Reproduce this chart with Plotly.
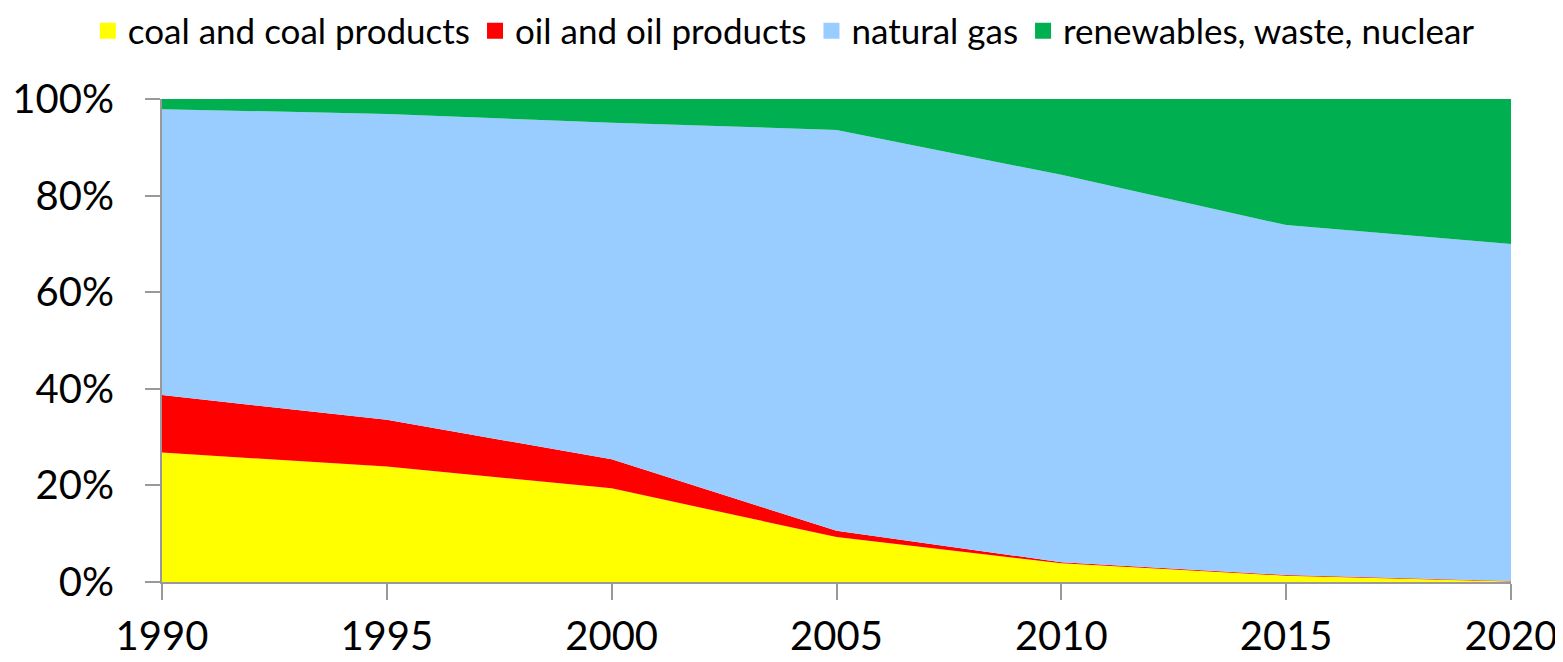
import plotly.graph_objects as go

years = [1990, 1995, 2000, 2005, 2010, 2015, 2020]
coal = [26.8, 23.9, 19.4, 9.3, 3.9, 1.3, 0.1]
oil = [11.9, 9.7, 6.0, 1.3, 0.2, 0.15, 0.1]
gas = [59.2, 63.3, 69.7, 83.0, 80.2, 72.45, 69.8]
renew = [2.1, 3.1, 4.9, 6.4, 15.7, 26.1, 30.0]

series = [
    ("coal and coal products", coal, "#FFFF00"),
    ("oil and oil products", oil, "#FF0000"),
    ("natural gas", gas, "#99CCFF"),
    ("renewables, waste, nuclear", renew, "#00B050"),
]

fig = go.Figure()
for name, vals, col in series:
    fig.add_trace(go.Scatter(
        x=years, y=vals, name=name, mode="lines",
        line=dict(width=0, color=col), fillcolor=col,
        stackgroup="one", showlegend=False, legendgroup=name,
    ))
for name, vals, col in series:
    fig.add_trace(go.Scatter(
        x=[None], y=[None], name=name, mode="markers",
        marker=dict(symbol="square", size=16, color=col),
        showlegend=True, legendgroup=name,
    ))

font_family = "Lato, sans-serif"
fig.update_layout(
    width=1563, height=662,
    margin=dict(l=154, r=60, t=91, b=88, autoexpand=False),
    paper_bgcolor="white", plot_bgcolor="white",
    font=dict(family=font_family, color="black"),
    showlegend=True,
    legend=dict(orientation="h", x=-0.055, xanchor="left", y=1.141, yanchor="middle",
                font=dict(size=35, family=font_family), bgcolor="rgba(0,0,0,0)",
                itemwidth=30, tracegroupgap=0, traceorder="normal"),
    xaxis=dict(range=[1990, 2020], tickvals=years, ticktext=[str(y) for y in years],
               showgrid=False, showline=True, linecolor="#999999", linewidth=2,
               ticks="outside", ticklen=16, tickwidth=2, tickcolor="#999999",
               tickfont=dict(size=40), ticklabelstandoff=2, zeroline=False,
               automargin=False),
    yaxis=dict(range=[0, 100], tickvals=[0, 20, 40, 60, 80, 100],
               ticktext=["0%", "20%", "40%", "60%", "80%", "100%"],
               showgrid=False, showline=True, linecolor="#999999", linewidth=2,
               ticks="outside", ticklen=15, tickwidth=2, tickcolor="#999999",
               tickfont=dict(size=40), ticklabelstandoff=23, zeroline=False,
               automargin=False),
)

fig.write_html("out.html")
